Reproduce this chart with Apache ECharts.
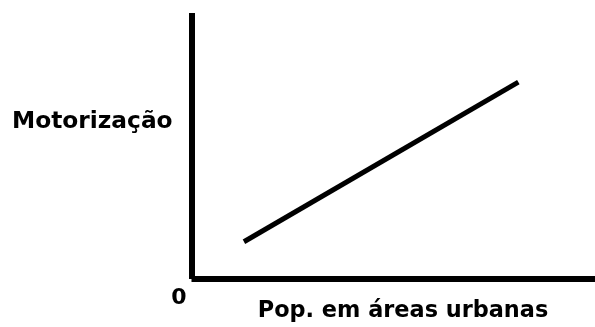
<!DOCTYPE html>
<html>
<head>
<meta charset="utf-8">
<script src="https://cdn.jsdelivr.net/npm/echarts@6/dist/echarts.min.js"></script>
<style>
html,body{margin:0;padding:0;background:#fff;}
#c{width:595px;height:327px;}
</style>
</head>
<body>
<div id="c"></div>
<script>
// Data (conceptual chart: motorization vs urban population)
var popUrbana = [13, 81];      // x values (start, end)
var motorizacao = [14, 74];    // y values (start, end)
var yTitle = 'Motorização';
var xTitle = 'Pop. em áreas urbanas';
var originLabel = '0';

var pts = popUrbana.map(function (x, i) { return [x, motorizacao[i]]; });

var chart = echarts.init(document.getElementById('c'), null, {renderer: 'canvas'});
var font = '"DejaVu Sans", Verdana, sans-serif';
chart.setOption({
  animation: false,
  backgroundColor: '#fff',
  grid: {left: 191.5, right: 0, top: 13, bottom: 48},
  xAxis: {
    type: 'value', min: 0, max: 100,
    axisLine: {show: true, lineStyle: {color: '#000', width: 6, cap: 'butt'}},
    axisTick: {show: false}, axisLabel: {show: false}, splitLine: {show: false}
  },
  yAxis: {
    type: 'value', min: 0, max: 100,
    axisLine: {show: true, lineStyle: {color: '#000', width: 6, cap: 'butt'}},
    axisTick: {show: false}, axisLabel: {show: false}, splitLine: {show: false}
  },
  series: [{
    type: 'line', data: pts, symbol: 'none',
    lineStyle: {color: '#000', width: 5, cap: 'butt'}
  }],
  graphic: [
    {type: 'text', left: 12, top: 110, style: {text: yTitle, font: 'bold 23.3px ' + font, fill: '#000'}},
    {type: 'text', x: 403, y: 311, style: {text: xTitle, font: 'bold 22.4px ' + font, fill: '#000', textAlign: 'center', textVerticalAlign: 'middle'}},
    {type: 'text', x: 179, y: 298, style: {text: originLabel, font: 'bold 22px ' + font, fill: '#000', textAlign: 'center', textVerticalAlign: 'middle'}}
  ]
});
</script>
</body>
</html>
